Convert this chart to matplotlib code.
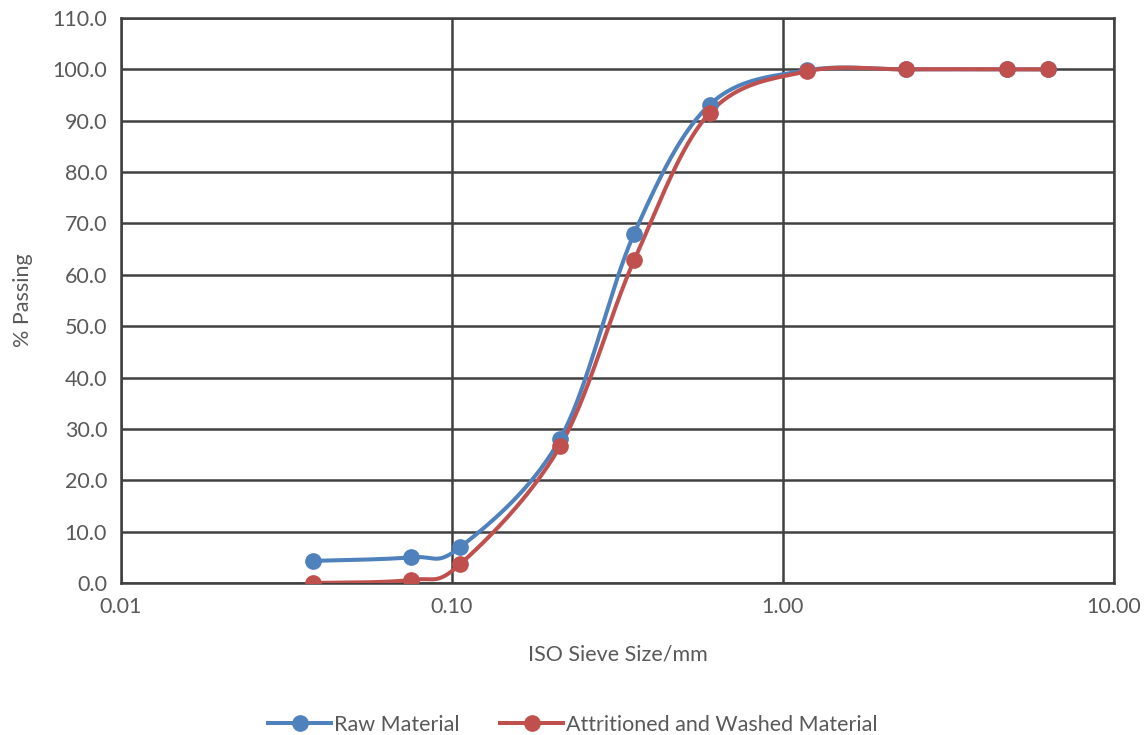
import numpy as np
import matplotlib
matplotlib.use("Agg")
import matplotlib.pyplot as plt
from matplotlib.ticker import FixedLocator, FixedFormatter

plt.rcParams['font.family'] = ['Lato', 'DejaVu Sans']

# ISO sieve sizes (mm) and percentage passing
sieve_mm = [0.038, 0.075, 0.106, 0.212, 0.355, 0.600, 1.18, 2.36, 4.75, 6.3]
raw_passing = [4.3, 5.0, 7.0, 28.0, 68.0, 93.1, 99.8, 100.0, 100.0, 100.0]
washed_passing = [0.0, 0.6, 3.7, 26.6, 62.8, 91.5, 99.6, 100.0, 100.0, 100.0]

series_names = ["Raw Material", "Attritioned and Washed Material"]
series_colors = ["#4F81BD", "#C0504D"]

x_ticks = [0.01, 0.1, 1.0, 10.0]
x_tick_labels = ["0.01", "0.10", "1.00", "10.00"]
y_ticks = list(range(0, 111, 10))


def smooth_curve(xs, ys, ax, n=40):
    """Catmull-Rom style Bezier smoothing computed in display space."""
    pts = ax.transData.transform(np.column_stack([xs, ys]))
    m = len(pts)
    out = []
    for i in range(m - 1):
        p0 = pts[i - 1] if i > 0 else pts[i]
        p1 = pts[i]
        p2 = pts[i + 1]
        p3 = pts[i + 2] if i + 2 < m else pts[i + 1]
        c1 = p1 + (p2 - p0) / 6.0
        c2 = p2 - (p3 - p1) / 6.0
        t = np.linspace(0, 1, n)[:, None]
        seg = ((1 - t) ** 3) * p1 + 3 * ((1 - t) ** 2) * t * c1 \
            + 3 * (1 - t) * t ** 2 * c2 + t ** 3 * p2
        out.append(seg if i == 0 else seg[1:])
    curve = np.vstack(out)
    data = ax.transData.inverted().transform(curve)
    return data[:, 0], data[:, 1]


fig = plt.figure(figsize=(11.46, 7.35), dpi=100)
ax = fig.add_axes([0.1056, 0.2068, 0.8664, 0.7687])
ax.set_xscale('log')
ax.set_xlim(0.01, 10)
ax.set_ylim(0, 110)

grid_color = "#404040"
ax.xaxis.set_major_locator(FixedLocator(x_ticks))
ax.xaxis.set_major_formatter(FixedFormatter(x_tick_labels))
ax.xaxis.set_minor_locator(FixedLocator([]))
ax.set_yticks(y_ticks)
ax.set_yticklabels([f"{v:.1f}" for v in y_ticks])
ax.grid(True, which='major', color=grid_color, linewidth=1.8)
ax.set_axisbelow(True)
for s in ax.spines.values():
    s.set_color(grid_color)
    s.set_linewidth(1.8)
ax.tick_params(axis='both', length=0, labelsize=15.5, colors="#595959", pad=10)

for vals, name, col in zip([raw_passing, washed_passing], series_names, series_colors):
    sx, sy = smooth_curve(sieve_mm, vals, ax)
    ax.plot(sx, sy, color=col, linewidth=2.9, solid_capstyle='round', zorder=3)
    ax.plot(sieve_mm, vals, linestyle='none', marker='o', markersize=11,
            color=col, zorder=4)
    ax.plot([], [], color=col, linewidth=2.9, marker='o', markersize=11, label=name)

ax.set_xlabel("ISO Sieve Size/mm", fontsize=15.5, color="#595959", labelpad=20)
ax.set_ylabel("% Passing", fontsize=15.5, color="#595959", labelpad=14)

leg = fig.legend(loc='lower center', bbox_to_anchor=(0.5, -0.026), ncol=2,
                 frameon=False, fontsize=15.5, handlelength=2.9,
                 columnspacing=1.9, handletextpad=0.15)
for t in leg.get_texts():
    t.set_color("#595959")

fig.savefig("out.png", dpi=100)
